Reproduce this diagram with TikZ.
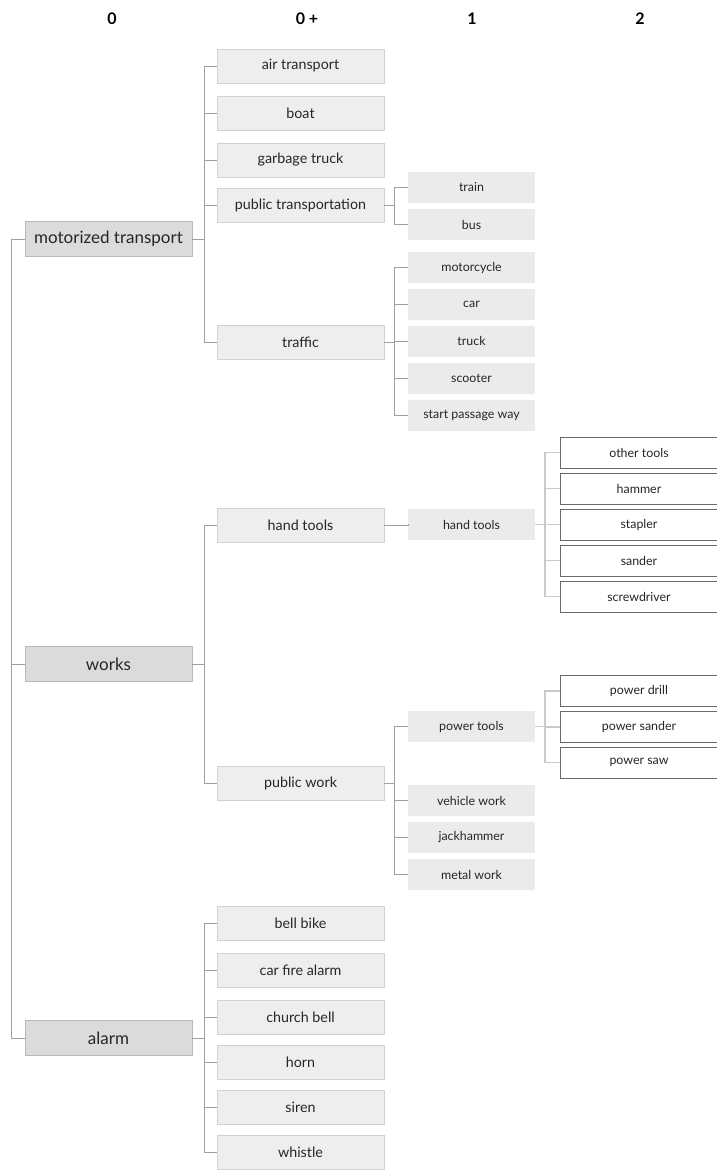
\documentclass[tikz,border=0pt]{standalone}
\usepackage{fontspec}
\setmainfont{Lato}
\usepackage{tikz}
\definecolor{rootfill}{HTML}{DCDBDC}
\definecolor{rootline}{HTML}{B9B9B9}
\definecolor{subfill}{HTML}{EEEEEE}
\definecolor{subline}{HTML}{D2D2D2}
\definecolor{leaffill}{HTML}{EBEBEB}
\definecolor{toolline}{HTML}{6A6A6A}
\definecolor{linkgray}{HTML}{A0A0A0}
\definecolor{stemlight}{HTML}{CACACA}
\definecolor{textgray}{HTML}{262626}
\newcommand{\branch}[4][link]{
    \draw[#1] (#2.east) -- ++(#3,0) coordinate (#2-s);
    \foreach \c in {#4} {\draw[#1] (#2-s) |- (\c.west);}
}

\begin{document}
\begin{tikzpicture}[x=1pt,y=-1pt,
        box/.style={inner sep=0pt, text=textgray},
        head/.style={font=\fontsize{16}{18}\bfseries\selectfont, text=black},
        lvlzero/.style={box, fill=rootfill, draw=rootline, minimum width=167pt, minimum height=35pt, font=\fontsize{17}{19}\selectfont},
        lvlone/.style={box, fill=subfill, draw=subline, minimum width=167pt, minimum height=34pt, font=\fontsize{14.3}{16}\selectfont},
        lvltwo/.style={box, fill=leaffill, minimum width=127pt, minimum height=31pt, font=\fontsize{12.4}{14}\selectfont},
        lvlthree/.style={box, fill=white, draw=toolline, minimum width=158pt, minimum height=31pt, font=\fontsize{12.4}{14}\selectfont},
        link/.style={draw=linkgray, line width=0.9pt},
        lightlink/.style={draw=stemlight, line width=1.6pt}]
    \useasboundingbox (0,0) rectangle (716,1170);
    \node[head] (h0) at (112,19) {0};
    \node[head] (h0p) at (307,19) {0 +};
    \node[head] (h1) at (472,19) {1};
    \node[head] (h2) at (640,19) {2};

    % level 0
    \node[lvlzero] (motor) at (108.5,239) {motorized transport};
    \node[lvlzero] (works) at (108.5,664) {works};
    \node[lvlzero] (alarm) at (108.5,1038) {alarm};

    % level 0+
    \node[lvlone] (air) at (300.5,66) {air transport};
    \node[lvlone] (boat) at (300.5,113) {boat};
    \node[lvlone] (garbage) at (300.5,160) {garbage truck};
    \node[lvlone] (publict) at (300.5,205) {public transportation};
    \node[lvlone] (traffic) at (300.5,342) {traffic};
    \node[lvlone] (hand) at (300.5,525) {hand tools};
    \node[lvlone] (pubwork) at (300.5,783) {public work};
    \node[lvlone] (bell) at (300.5,923.5) {bell bike};
    \node[lvlone] (fire) at (300.5,970.5) {car fire alarm};
    \node[lvlone] (church) at (300.5,1017.5) {church bell};
    \node[lvlone] (horn) at (300.5,1062.5) {horn};
    \node[lvlone] (siren) at (300.5,1107.5) {siren};
    \node[lvlone] (whistle) at (300.5,1152.5) {whistle};

    % level 1
    \node[lvltwo] (train) at (471.5,187.5) {train};
    \node[lvltwo] (bus) at (471.5,224.5) {bus};
    \node[lvltwo] (moto) at (471.5,267.5) {motorcycle};
    \node[lvltwo] (car) at (471.5,304.5) {car};
    \node[lvltwo] (truck) at (471.5,341) {truck};
    \node[lvltwo] (scooter) at (471.5,378) {scooter};
    \node[lvltwo] (passage) at (471.5,415) {start passage way};
    \node[lvltwo] (handone) at (471.5,524.5) {hand tools};
    \node[lvltwo] (power) at (471.5,726.5) {power tools};
    \node[lvltwo] (vehicle) at (471.5,800.5) {vehicle work};
    \node[lvltwo] (jack) at (471.5,837.5) {jackhammer};
    \node[lvltwo] (metal) at (471.5,874.5) {metal work};

    % level 2
    \node[lvlthree] (other) at (639,452.5) {other tools};
    \node[lvlthree] (hammer) at (639,488.5) {hammer};
    \node[lvlthree] (stapler) at (639,524.5) {stapler};
    \node[lvlthree] (sander) at (639,560.5) {sander};
    \node[lvlthree] (screw) at (639,596.5) {screwdriver};
    \node[lvlthree] (drill) at (639,691) {power drill};
    \node[lvlthree] (psander) at (639,727) {power sander};
    \node[lvlthree] (saw) at (639,762.5) {power saw};

    % connectors
    \draw[link] (motor.west) -- ++(-13,0) |- (alarm.west);
    \draw[link] (works.west) -- ++(-13,0);
    \branch{motor}{12}{air,boat,garbage,publict,traffic}
    \branch{works}{12}{hand,pubwork}
    \branch{alarm}{12}{bell,fire,church,horn,siren,whistle}
    \branch{publict}{10}{train,bus}
    \branch{traffic}{10}{moto,car,truck,scooter,passage}
    \branch{hand}{24}{handone}
    \branch{pubwork}{10}{power,vehicle,jack,metal}
    \branch[lightlink]{handone}{10}{other,hammer,stapler,sander,screw}
    \branch[lightlink]{power}{10}{drill,psander,saw}
\end{tikzpicture}
\end{document}
